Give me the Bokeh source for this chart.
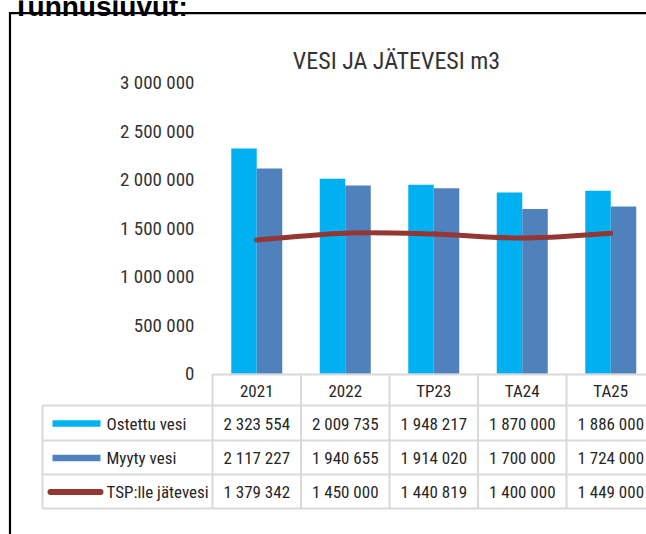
from bokeh.plotting import figure
from bokeh.models import Range1d, LinearAxis, FixedTicker
from bokeh.core.properties import value
from bokeh.embed import file_html
from bokeh.resources import INLINE

# ---------------- data ----------------
page_heading = "Tunnusluvut:"
title = "VESI JA JÄTEVESI m3"
categories = ["2021", "2022", "TP23", "TA24", "TA25"]
ostettu_vesi = [2323554, 2009735, 1948217, 1870000, 1886000]
myyty_vesi = [2117227, 1940655, 1914020, 1700000, 1724000]
tsp_jatevesi = [1379342, 1450000, 1440819, 1400000, 1449000]
series_names = ["Ostettu vesi", "Myyty vesi", "TSP:lle jätevesi"]
y_ticks = [0, 500000, 1000000, 1500000, 2000000, 2500000, 3000000]

# ---------------- style / layout ----------------
FONT = "Roboto Condensed"
C_OST = "#00B0F0"
C_MYY = "#4F81BD"
C_TSP = "#943634"
GRID = "#D9D9D9"
TXT = "#262626"

W, H = 646, 534
PX0, PX1, PY0, PY1 = 0, 646, 0, 534   # page extent covered by the figure
COL0, COLW = 212.0, 88.5  # page x of first category column, column width
Y0, PXM = 373.3, 97.0     # page y of zero, px per million

def fmt(v):
    return f"{v:,}".replace(",", " ")

n = len(categories)
x_range = Range1d((PX0 - COL0) / COLW, (PX1 - COL0) / COLW)
y_range = Range1d((Y0 - PY1) / PXM * 1e6, (Y0 - PY0) / PXM * 1e6)

p = figure(width=W, height=H, x_range=x_range, y_range=y_range,
           x_axis_type=None, y_axis_type=None, toolbar_location=None,
           output_backend="svg", min_border=0)
p.extra_x_ranges = {"px": Range1d(PX0, PX1)}
p.extra_y_ranges = {"py": Range1d(PY1, PY0)}
p.outline_line_color = None
p.background_fill_color = "white"
p.border_fill_color = "white"
p.xgrid.visible = False
p.ygrid.visible = False

centers = [i + 0.5 for i in range(n)]
bw = 25.5 / COLW

# bars
p.vbar(x=[c - bw / 2 for c in centers], width=bw, top=ostettu_vesi, bottom=0,
       fill_color=C_OST, line_color=None)
p.vbar(x=[c + bw / 2 for c in centers], width=bw, top=myyty_vesi, bottom=0,
       fill_color=C_MYY, line_color=None)

# smoothed line (Catmull-Rom -> cubic Bezier, like Excel's smoothed line)
pts = list(zip(centers, tsp_jatevesi))
bx0, by0, bx1, by1, cx0, cy0, cx1, cy1 = ([] for _ in range(8))
for i in range(n - 1):
    p0 = pts[i - 1] if i > 0 else pts[i]
    p1 = pts[i]
    p2 = pts[i + 1]
    p3 = pts[i + 2] if i + 2 < n else pts[i + 1]
    bx0.append(p1[0]); by0.append(p1[1])
    bx1.append(p2[0]); by1.append(p2[1])
    cx0.append(p1[0] + (p2[0] - p0[0]) / 6); cy0.append(p1[1] + (p2[1] - p0[1]) / 6)
    cx1.append(p2[0] - (p3[0] - p1[0]) / 6); cy1.append(p2[1] - (p3[1] - p1[1]) / 6)
p.bezier(x0=bx0, y0=by0, x1=bx1, y1=by1, cx0=cx0, cy0=cy0, cx1=cx1, cy1=cy1,
         line_color=C_TSP, line_width=5, line_cap="round")

# y axis (drawn inside the frame at a fixed location)
yaxis = LinearAxis(fixed_location=(194 - COL0) / COLW,
                   ticker=FixedTicker(ticks=y_ticks),
                   major_label_overrides={t: fmt(t) for t in y_ticks},
                   axis_line_color=None, major_tick_line_color=None,
                   minor_tick_line_color=None, major_tick_out=0, major_tick_in=0,
                   major_label_standoff=0,
                   major_label_text_font=FONT, major_label_text_font_size="19px",
                   major_label_text_color="#333333", bounds=(0, 3000000))
p.add_layout(yaxis, "left")

# page heading (cut off at the top, as in the source screenshot)
p.text(x=[12], y=[6], text=[page_heading], x_range_name="px", y_range_name="py",
       text_font=value("Liberation Sans"), text_font_size="28px", text_font_style="bold",
       text_color="black", text_align="left", text_baseline="alphabetic")

# title
p.text(x=[396], y=[60], text=[title], x_range_name="px", y_range_name="py",
       text_font=value(FONT), text_font_size="24px", text_color="#333333",
       text_align="center", text_baseline="middle")

# ---------------- data table ----------------
HDR_TOP = 374
ROW_B = [405, 440, 474, 508]
TBL_LEFT = 42
row_mid = [(ROW_B[i] + ROW_B[i + 1]) / 2 + 0.5 for i in range(3)]

# horizontal lines
p.segment(x0=[0], y0=[HDR_TOP], x1=[x_range.end], y1=[HDR_TOP],
          y_range_name="py", line_color=GRID, line_width=2)
p.segment(x0=[(TBL_LEFT - COL0) / COLW] * 4, y0=ROW_B, x1=[x_range.end] * 4, y1=ROW_B,
          y_range_name="py", line_color=GRID, line_width=2)
# vertical lines
p.segment(x0=[(TBL_LEFT - COL0) / COLW], y0=[ROW_B[0]], x1=[(TBL_LEFT - COL0) / COLW],
          y1=[ROW_B[-1]], y_range_name="py", line_color=GRID, line_width=2)
p.segment(x0=list(range(n + 1)), y0=[HDR_TOP] * (n + 1), x1=list(range(n + 1)),
          y1=[ROW_B[-1]] * (n + 1), y_range_name="py", line_color=GRID, line_width=2)

TFS = "17px"
# header
p.text(x=centers, y=[390] * n, text=categories, y_range_name="py",
       text_font=value(FONT), text_font_size=TFS, text_color=TXT,
       text_align="center", text_baseline="middle")
# values
for r, vals in enumerate([ostettu_vesi, myyty_vesi, tsp_jatevesi]):
    p.text(x=centers, y=[row_mid[r]] * n, text=[fmt(v) for v in vals], y_range_name="py",
           text_font=value(FONT), text_font_size=TFS, text_color=TXT,
           text_align="center", text_baseline="middle")

# legend keys + labels
p.rect(x=[76, 76], y=[row_mid[0], row_mid[1]], width=48, height=6.5,
       x_range_name="px", y_range_name="py", fill_color=[C_OST, C_MYY], line_color=None)
p.segment(x0=[50], y0=[row_mid[2]], x1=[100], y1=[row_mid[2]],
          x_range_name="px", y_range_name="py", line_color=C_TSP, line_width=6,
          line_cap="round")
p.text(x=[106] * 3, y=row_mid, text=series_names, x_range_name="px", y_range_name="py",
       text_font=value(FONT), text_font_size=TFS, text_color=TXT,
       text_align="left", text_baseline="middle")

# outer chart border (left and top; right/bottom are outside the window)
p.segment(x0=[9.5, 8.5], y0=[12, 12.7], x1=[9.5, PX1], y1=[PY1, 12.7],
          x_range_name="px", y_range_name="py", line_color="black", line_width=2.2)

open("out.html", "w").write(file_html(p, INLINE))
